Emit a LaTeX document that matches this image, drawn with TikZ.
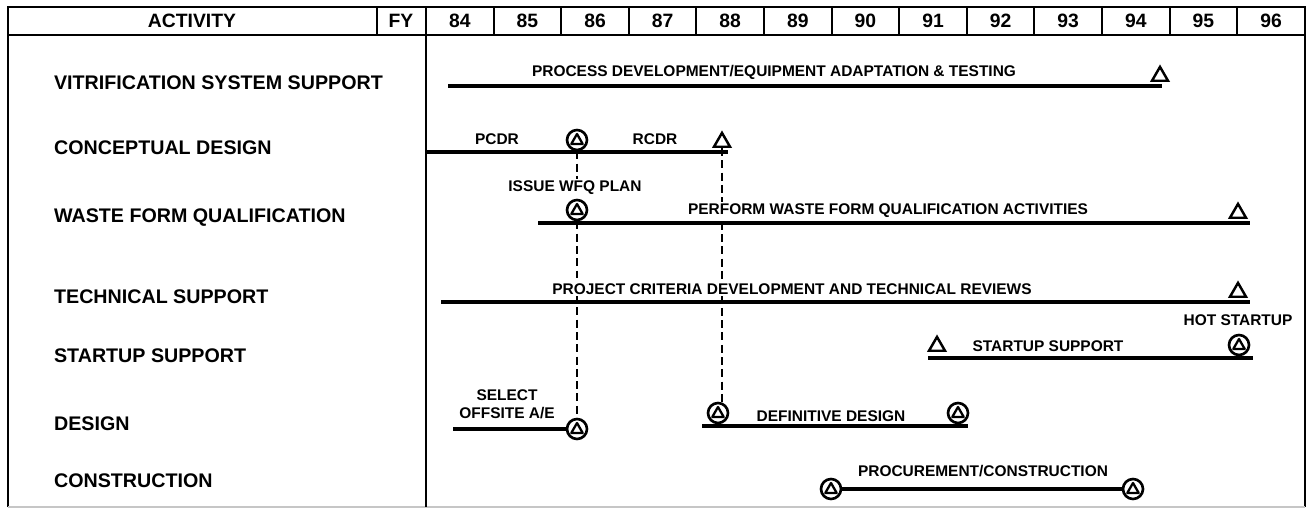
\documentclass[tikz,border=0pt]{standalone}
\usepackage{fontspec}
\setmainfont{Liberation Sans}
\usetikzlibrary{shapes.geometric,backgrounds}
\begin{document}
\begin{tikzpicture}[x=0.02cm, y=-0.02cm,
  every node/.style={font=\bfseries\fontsize{8.8}{10}\selectfont, inner sep=1pt, fill=white},
  head/.style={font=\bfseries\fontsize{11}{12}\selectfont},
  act/.style={anchor=west, font=\bfseries\fontsize{11.2}{12}\selectfont},
  rule/.style={line width=1.1pt},
  bar/.style={line width=2.6pt},
  link/.style={line width=1.1pt, dash pattern=on 4.5pt off 2.5pt},
  tri/.style={draw, regular polygon, regular polygon sides=3, minimum size=0.37cm, inner sep=0pt, line width=1.4pt, anchor=south},
  keyms/.style={draw, circle, minimum size=0.4cm, inner sep=0pt, line width=1.5pt,
    path picture={\draw[line width=1.3pt, line join=round] ([yshift=0.12cm]path picture bounding box.center) -- ++(-0.115cm,-0.2cm) -- ++(0.23cm,0cm) -- cycle;}}]
\useasboundingbox (0,0) rectangle (1309,513);
% frame and header
\draw[rule] (8,507) -- (8,7) -- (1305,7) -- (1305,507);
\draw[line width=1pt, gray!45] (8,507) -- (1305,507);
\draw[rule] (8,35) -- (1305,35);
\draw[rule] (377,7) -- (377,35);
\draw[rule] (426,7) -- (426,507);
\node[head] (hact) at (192,21) {ACTIVITY};
\node[head] (hfy) at (401,21) {FY};
\foreach \yr [count=\i] in {84,...,96}{
  \node[head] (h\yr) at ({426+67.6*(\i-0.5)},21) {\yr};
  \draw[rule] ({426+67.6*\i},7) -- ++(0,28);
}
% activities
\node[act] (avit) at (52,83) {VITRIFICATION SYSTEM SUPPORT};
\node[act] (acd) at (52,148) {CONCEPTUAL DESIGN};
\node[act] (awfq) at (52,218) {WASTE FORM QUALIFICATION};
\node[act] (ats) at (52,297) {TECHNICAL SUPPORT};
\node[act] (ass) at (52,356) {STARTUP SUPPORT};
\node[act] (ades) at (52,424) {DESIGN};
\node[act] (acon) at (52,481) {CONSTRUCTION};
% vitrification
\coordinate (v0) at (448,86); \coordinate (v1) at (1162,86);
\draw[bar] (v0) -- (v1);
\node[tri] (v94) at (1160,82) {};
\node (vtxt) at (774,72) {PROCESS DEVELOPMENT/EQUIPMENT ADAPTATION \& TESTING};
% conceptual design
\coordinate (cd0) at (426,152); \coordinate (cd1) at (728,152);
\draw[bar] (cd0) -- (cd1);
\node[keyms] (cd86) at (577,140) {};
\node[tri] (cd88) at (722,148) {};
\node (pcdr) at (497,139) {PCDR};
\node (rcdr) at (655,139) {RCDR};
% waste form qualification
\coordinate (wq0) at (538,223); \coordinate (wq1) at (1250,223);
\draw[bar] (wq0) -- (wq1);
\node[keyms] (wfq86) at (577,210) {};
\node[tri] (wfq95) at (1238,219) {};
\node (wfqtxt) at (575,188) {ISSUE WFQ PLAN};
\node (perf) at (888,211) {PERFORM WASTE FORM QUALIFICATION ACTIVITIES};
% technical support
\coordinate (ts0) at (441,302); \coordinate (ts1) at (1250,302);
\draw[bar] (ts0) -- (ts1);
\node[tri] (ts95) at (1238,298) {};
\node (tstxt) at (792,289) {PROJECT CRITERIA DEVELOPMENT AND TECHNICAL REVIEWS};
% startup support
\coordinate (ss0) at (928,358); \coordinate (ss1) at (1253,358);
\draw[bar] (ss0) -- (ss1);
\node[tri] (ss91) at (937,352) {};
\node[keyms] (ss95) at (1239,345) {};
\node (sstxt) at (1048,346) {STARTUP SUPPORT};
\node (hot) at (1238,320) {HOT STARTUP};
% design
\coordinate (d0) at (453,429);
\node[keyms] (dA) at (577,429) {};
\draw[bar] (d0) -- (dA.west);
\node[align=center] (sel) at (507,404) {SELECT\\OFFSITE A/E};
\coordinate (d1) at (702,426); \coordinate (d2) at (968,426);
\draw[bar] (d1) -- (d2);
\node[keyms] (dB) at (718,413) {};
\node[keyms] (dC) at (958,413) {};
\node (deftxt) at (831,416) {DEFINITIVE DESIGN};
% construction
\node[keyms] (c1) at (831,489) {};
\node[keyms] (c2) at (1133,489) {};
\draw[bar] (c1.east) -- (c2.west);
\node (contxt) at (983,471) {PROCUREMENT/CONSTRUCTION};
% ties
\begin{scope}[on background layer]
\draw[link] (cd86.south) -- (cd86.south |- wfqtxt.north);
\draw[link] (wfq86.south) -- (dA.north);
\draw[link] (cd88.south) -- (cd88.south |- dB.north);
\end{scope}
\end{tikzpicture}
\end{document}
